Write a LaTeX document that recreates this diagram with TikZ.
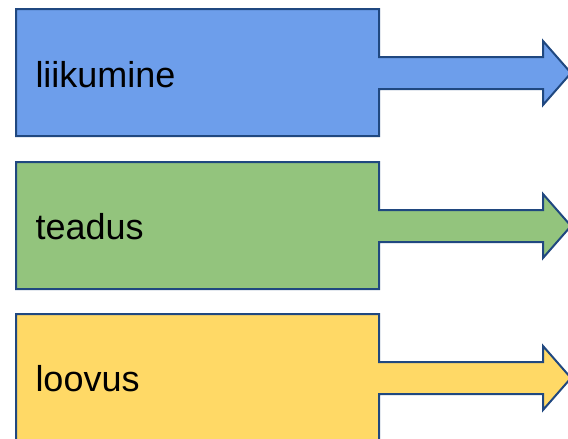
\documentclass[tikz,border=0pt]{standalone}
\usepackage{fontspec}
\setmainfont{Liberation Sans}
\definecolor{rowblue}{RGB}{109,158,235}
\definecolor{rowgreen}{RGB}{147,196,125}
\definecolor{rowyellow}{RGB}{255,217,102}
\definecolor{edgeblue}{RGB}{32,72,128}
\tikzset{every picture/.style={line width=0.75pt}}
\tikzset{
  arrowbox/.style={draw=edgeblue, line width=1.5pt, line join=miter},
  rowlabel/.style={anchor=base west, inner sep=0pt, font=\fontsize{27}{32}\selectfont}
}

\begin{document}
\begin{tikzpicture}[x=0.75pt,y=0.75pt,yscale=-1,xscale=1]
\useasboundingbox (0,0) rectangle (568,439); %set diagram size 568 x 439

%Shape: Box with Arrow [id:liikumine]
\draw [arrowbox, fill=rowblue] (16,9) -- (379,9) -- (379,57) -- (543,57) -- (543,41) -- (571,73) -- (543,105) -- (543,89) -- (379,89) -- (379,136) -- (16,136) -- cycle ;
%Shape: Box with Arrow [id:teadus]
\draw [arrowbox, fill=rowgreen] (16,162) -- (379,162) -- (379,210) -- (543,210) -- (543,194) -- (571,226) -- (543,258) -- (543,242) -- (379,242) -- (379,289) -- (16,289) -- cycle ;
%Shape: Box with Arrow [id:loovus]
\draw [arrowbox, fill=rowyellow] (16,314) -- (379,314) -- (379,362) -- (543,362) -- (543,346) -- (571,378) -- (543,410) -- (543,394) -- (379,394) -- (379,441) -- (16,441) -- cycle ;

% Text Node
\node [rowlabel] (liikumine) at (35,87) {liikumine};
% Text Node
\node [rowlabel] (teadus) at (35,239) {teadus};
% Text Node
\node [rowlabel] (loovus) at (35,391) {loovus};

\end{tikzpicture}
\end{document}
